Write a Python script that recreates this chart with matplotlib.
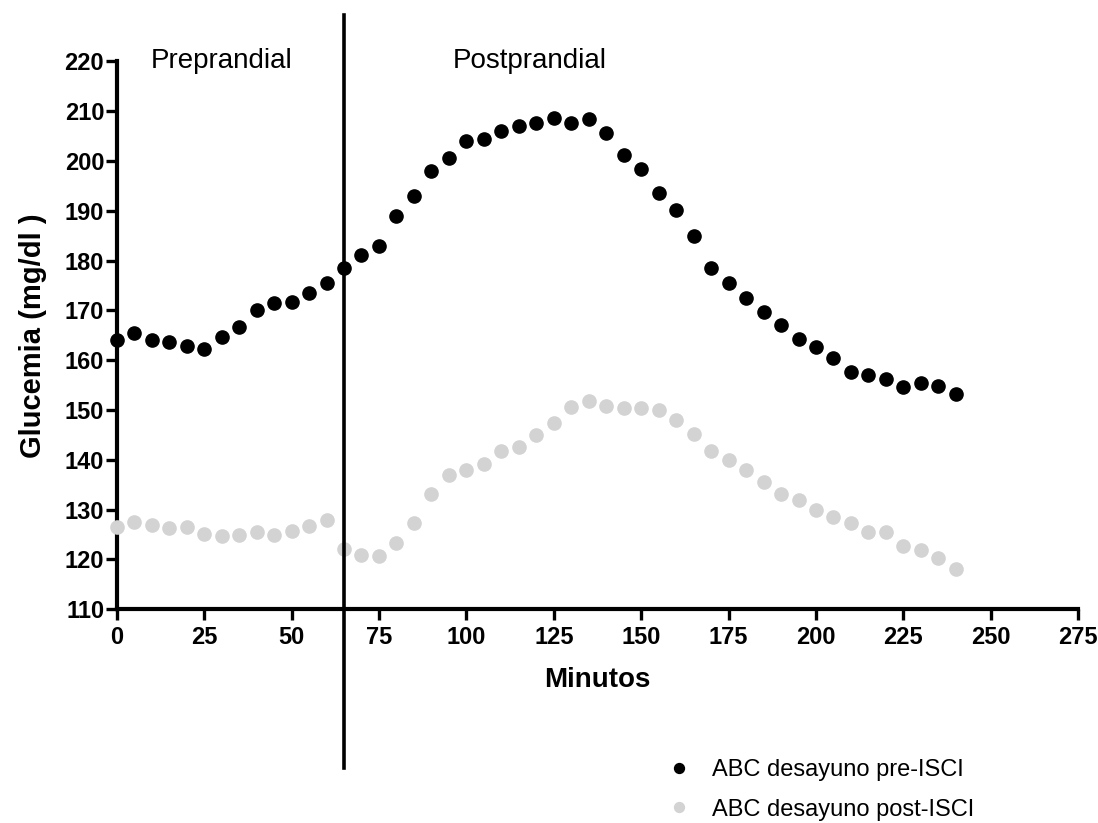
import matplotlib
matplotlib.use("Agg")
import matplotlib.pyplot as plt
from matplotlib.transforms import blended_transform_factory

plt.rcParams['font.family'] = ['Liberation Sans', 'DejaVu Sans']

# glucose readings every 5 minutes, 0-240
minutos = list(range(0, 245, 5))
pre_isci = [164.1, 165.4, 164.1, 163.7, 162.9, 162.3, 164.6, 166.6, 170.0, 171.6,
            171.8, 173.5, 175.6, 178.6, 181.2, 183.0, 189.0, 193.0, 198.0, 200.7,
            204.1, 204.5, 206.1, 207.1, 207.7, 208.6, 207.6, 208.5, 205.6, 201.2,
            198.5, 193.5, 190.1, 185.0, 178.5, 175.5, 172.6, 169.6, 167.0, 164.3,
            162.7, 160.5, 157.6, 157.0, 156.2, 154.7, 155.5, 154.9, 153.3]
post_isci = [126.6, 127.5, 126.9, 126.4, 126.5, 125.1, 124.8, 125.0, 125.6, 124.9,
             125.7, 126.7, 127.9, 122.1, 120.9, 120.7, 123.3, 127.3, 133.2, 136.9,
             137.9, 139.2, 141.8, 142.5, 145.0, 147.4, 150.6, 151.9, 150.8, 150.4,
             150.5, 150.1, 148.0, 145.2, 141.8, 139.9, 138.0, 135.5, 133.2, 132.0,
             129.9, 128.6, 127.4, 125.5, 125.6, 122.7, 122.0, 120.2, 118.1]

corte = 65  # start of postprandial period

fig = plt.figure(figsize=(10.98, 8.23), dpi=100)
ax = fig.add_axes([0.1063, 0.2597, 0.8757, 0.6656])

ax.plot(minutos, pre_isci, 'o', color='black', markersize=9.5, clip_on=False,
        zorder=3, label='ABC desayuno pre-ISCI')
ax.plot(minutos, post_isci, 'o', color='#d3d3d3', markersize=9.5, clip_on=False,
        zorder=3, label='ABC desayuno post-ISCI')

ax.set_xlim(0, 275)
ax.set_ylim(110, 220)
ax.set_xticks(range(0, 276, 25))
ax.set_yticks(range(110, 221, 10))

for s in ['top', 'right']:
    ax.spines[s].set_visible(False)
for s in ['left', 'bottom']:
    ax.spines[s].set_linewidth(3)
ax.tick_params(width=2.4, length=8, labelsize=17)
ax.tick_params(axis='y', pad=1)
ax.tick_params(axis='x', pad=4)
for lab in ax.get_xticklabels() + ax.get_yticklabels():
    lab.set_fontweight('bold')

ax.set_xlabel('Minutos', fontsize=20, fontweight='bold', labelpad=13)
ax.set_ylabel('Glucemia (mg/dl )', fontsize=21, fontweight='bold', labelpad=13)

# divider between pre and postprandial
trans = blended_transform_factory(ax.transData, fig.transFigure)
ax.plot([corte, corte], [0.067, 0.982], color='black', lw=2.6,
        transform=trans, clip_on=False, zorder=4)

ax.text(30, 220, 'Preprandial', fontsize=20, ha='center', va='center')
ax.text(118, 220, 'Postprandial', fontsize=20, ha='center', va='center')

leg = ax.legend(loc='upper left', bbox_to_anchor=(0.588, 0.103),
                bbox_transform=fig.transFigure, frameon=False, fontsize=17,
                markerscale=0.75, handlelength=1.0, handletextpad=0.9,
                labelspacing=0.73)

fig.savefig('out.png', dpi=100)
